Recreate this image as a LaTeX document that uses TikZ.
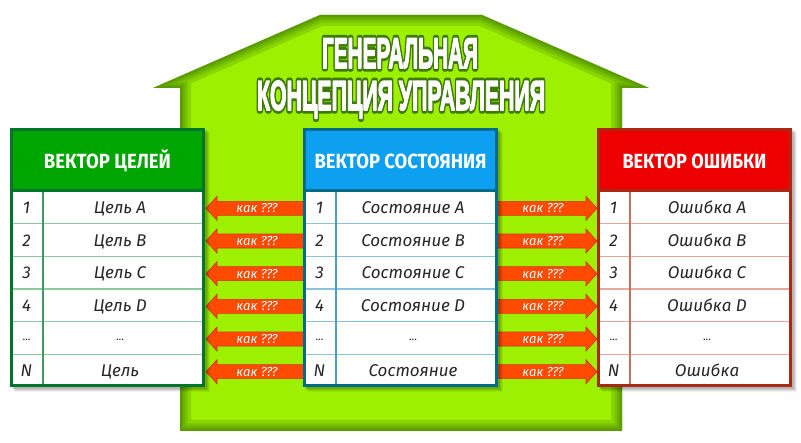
\documentclass[tikz,border=0pt]{standalone}
\usepackage{fontspec}
\setmainfont{Fira Sans}
\newfontfamily\titlefont{Liberation Sans}
\definecolor{lime}{HTML}{9CF000}
\definecolor{limedark}{HTML}{3A7200}
\definecolor{glowc}{HTML}{3E7A08}
\definecolor{gfill}{HTML}{00A600}
\definecolor{gbord}{HTML}{00752E}
\definecolor{gline}{HTML}{8CC8A0}
\definecolor{gsep}{HTML}{3E9A5E}
\definecolor{bfill}{HTML}{0DA0F0}
\definecolor{bbord}{HTML}{006C8C}
\definecolor{bline}{HTML}{88C4DC}
\definecolor{bsep}{HTML}{4AA0C4}
\definecolor{rfill}{HTML}{EE0000}
\definecolor{rbord}{HTML}{A82A14}
\definecolor{rline}{HTML}{E6A89A}
\definecolor{rsep}{HTML}{CC6E5E}
\definecolor{arrowfill}{HTML}{FF4A00}
\definecolor{arrowedge}{HTML}{D83000}
% text render modes: 1 = stroke, 2 = fill + stroke
\newcommand\rendermode[3]{\special{pdf:literal direct #2 w 1 j #1 Tr}#3\special{pdf:literal direct 0 Tr}}
\tikzset{
  headtext/.style={text=white, inner sep=0pt, anchor=base},
  rowtext/.style={text=black!85, inner sep=0pt, anchor=base, font=\itshape\fontsize{17}{17}\selectfont},
  kak/.style={text=white, inner sep=0pt, anchor=base, font=\itshape\fontsize{13}{13}\selectfont},
  titletext/.style={text=white, inner sep=0pt, anchor=base},
  titleglow/.style={text=glowc, inner sep=0pt, anchor=base},
  arrowshape/.style={fill=arrowfill, draw=arrowedge, line width=0.6pt},
}
\def\housepath{(180,431) -- (180,88) -- (153,88) -- (320,15) -- (482,15) -- (649,88) -- (622,88) -- (622,431) -- cycle}
\newcommand\lineone{\titlefont\bfseries\fontsize{43}{43}\selectfont ГЕНЕРАЛЬНАЯ}
\newcommand\linetwo{\titlefont\bfseries\fontsize{42}{42}\selectfont КОНЦЕПЦИЯ УПРАВЛЕНИЯ}
% row: name, L, k, number, text
\newcommand\vrow[5]{%
  \node[rowtext] (#1-n#3) at (#2+16.5,{191+32.67*(#3-0.5)+6}) {#4};
  \node[rowtext] (#1-t#3) at (#2+110,{191+32.67*(#3-0.5)+6}) {#5};
}
% table: name, L, fill, border, line, sep, header, header width, word
\newcommand\vtab[9]{%
  \foreach \s/\o in {5/0.05,4/0.07,3/0.09,2/0.1} {
    \fill[black,opacity=\o] (#2+\s,128+\s) rectangle (#2+195+\s,387+\s);
  }
  \fill[white] (#2,128) rectangle (#2+195,387);
  \fill[#3] (#2,128) rectangle (#2+195,191);
  \foreach \k in {1,...,5} {
    \draw[#5, line width=1.2pt] (#2,{191+32.67*\k}) -- (#2+195,{191+32.67*\k});
  }
  \draw[#6, line width=1.2pt] (#2+33,191) -- (#2+33,387);
  \draw[#4, line width=3pt] (#2+1.5,129.5) rectangle (#2+193.5,385.5);
  \draw[#4, line width=3pt] (#2,191) -- (#2+195,191);
  \node[headtext] (#1-h) at (#2+97.5,168.5) {\resizebox{#8}{\height}{\bfseries\fontsize{20.5}{20.5}\selectfont #7}};
  \vrow{#1}{#2}{1}{1}{#9 A}
  \vrow{#1}{#2}{2}{2}{#9 B}
  \vrow{#1}{#2}{3}{3}{#9 C}
  \vrow{#1}{#2}{4}{4}{#9 D}
  \node[rowtext, font=\fontsize{11}{11}\selectfont] (#1-n5) at (#2+16.5,{191+32.67*4.5+2}) {...};
  \node[rowtext, font=\fontsize{11}{11}\selectfont] (#1-t5) at (#2+110,{191+32.67*4.5+2}) {...};
  \vrow{#1}{#2}{6}{N}{#9}
}
\newcommand\larrow[2]{%
  \path[arrowshape] (206,#2) -- (217,#2-12) -- (217,#2-7) -- (306,#2-7) -- (306,#2+7) -- (217,#2+7) -- (217,#2+12) -- cycle;
  \node[kak] (#1) at (257,#2+4.5) {как ???};
}
\newcommand\rarrow[2]{%
  \path[arrowshape] (597,#2) -- (586,#2-12) -- (586,#2-7) -- (495,#2-7) -- (495,#2+7) -- (586,#2+7) -- (586,#2+12) -- cycle;
  \node[kak] (#1) at (543,#2+4.5) {как ???};
}
\begin{document}
\begin{tikzpicture}[x=1pt,y=-1pt]
\useasboundingbox (0,0) rectangle (801,443);
\fill[white] (0,0) rectangle (801,443);
% house
\fill[lime] \housepath;
\begin{scope}
  \clip \housepath;
  \foreach \w in {22,15,10,6,3} {
    \draw[limedark, opacity=0.2, line width=\w pt] \housepath;
  }
\end{scope}
% arrows
\foreach \k in {1,...,6} {
  \pgfmathsetmacro\yc{191+32.67*(\k-0.5)+1}
  \larrow{la\k}{\yc}
  \rarrow{ra\k}{\yc}
}
% tables
\vtab{L}{10}{gfill}{gbord}{gline}{gsep}{ВЕКТОР ЦЕЛЕЙ}{127pt}{Цель}
\vtab{M}{303}{bfill}{bbord}{bline}{bsep}{ВЕКТОР СОСТОЯНИЯ}{172pt}{Состояние}
\vtab{R}{597}{rfill}{rbord}{rline}{rsep}{ВЕКТОР ОШИБКИ}{144pt}{Ошибка}
% title
\node[titleglow] (g1) at (400,68) {\resizebox{156pt}{\height}{\rendermode{1}{7}{\lineone}}};
\node[titleglow] (g2) at (401,110) {\resizebox{288pt}{\height}{\rendermode{1}{7}{\linetwo}}};
\node[titletext] (t1) at (400,68) {\resizebox{156pt}{\height}{\rendermode{2}{1.6}{\lineone}}};
\node[titletext] (t2) at (401,110) {\resizebox{288pt}{\height}{\rendermode{2}{1.6}{\linetwo}}};
\end{tikzpicture}
\end{document}
